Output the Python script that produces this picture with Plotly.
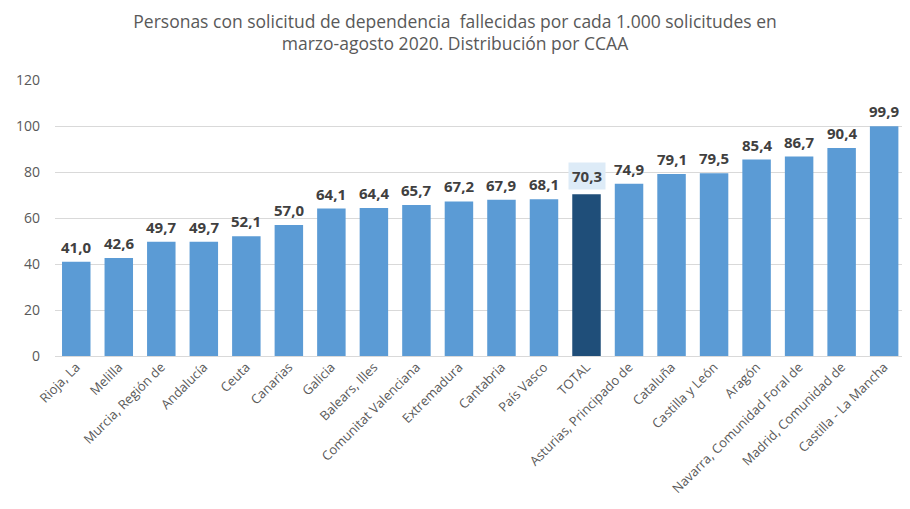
import plotly.graph_objects as go

categories = ["Rioja, La", "Melilla", "Murcia, Región de", "Andalucía", "Ceuta", "Canarias",
              "Galicia", "Balears, Illes", "Comunitat Valenciana", "Extremadura", "Cantabria",
              "País Vasco", "TOTAL", "Asturias, Principado de", "Cataluña", "Castilla y León",
              "Aragón", "Navarra, Comunidad Foral de", "Madrid, Comunidad de", "Castilla - La Mancha"]
values = [41.0, 42.6, 49.7, 49.7, 52.1, 57.0, 64.1, 64.4, 65.7, 67.2, 67.9, 68.1, 70.3,
          74.9, 79.1, 79.5, 85.4, 86.7, 90.4, 99.9]
y_ticks = [0, 20, 40, 60, 80, 100, 120]
highlight = "TOTAL"

colors = ["#1F4E79" if c == highlight else "#5B9BD5" for c in categories]

fig = go.Figure(go.Bar(x=categories, y=values, marker=dict(color=colors, line=dict(width=0)),
                       hoverinfo="x+y"))

def fmt(v):
    return f"{v:.1f}".replace(".", ",")

for c, v in zip(categories, values):
    fig.add_annotation(x=c, y=v, text=f"<b>{fmt(v)}</b>", showarrow=False, yanchor="bottom",
                       yshift=4, font=dict(family="Open Sans", size=15, color="#404040"),
                       bgcolor="#DDEBF7" if c == highlight else "rgba(0,0,0,0)",
                       borderpad=3 if c == highlight else 0)

# page body adds an 8px margin on every side, so the figure is sized to fit inside it
fig.update_layout(
    width=894, height=493,
    margin=dict(l=47, r=0, t=72, b=145),
    paper_bgcolor="white", plot_bgcolor="white",
    bargap=0.33,
    showlegend=False,
    title=dict(text="Personas con solicitud de dependencia  fallecidas por cada 1.000 solicitudes en<br>marzo-agosto 2020. Distribución por CCAA",
               x=0.5, xanchor="center", y=0.9603, yanchor="top",
               font=dict(family="Open Sans", size=17.5, color="#595959")),
    xaxis=dict(tickangle=-45, tickfont=dict(family="Open Sans", size=13, color="#595959"),
               showline=False, showgrid=False, ticks="", automargin=False,
               range=[-0.5, 19.42]),
    yaxis=dict(range=[0, 120], tickvals=y_ticks, gridcolor="#D9D9D9", gridwidth=1,
               zeroline=True, zerolinecolor="#D9D9D9", zerolinewidth=1,
               tickfont=dict(family="Open Sans", size=14, color="#595959"), ticks="",
               ticklabelstandoff=14, automargin=False),
)

fig.write_html("out.html")
